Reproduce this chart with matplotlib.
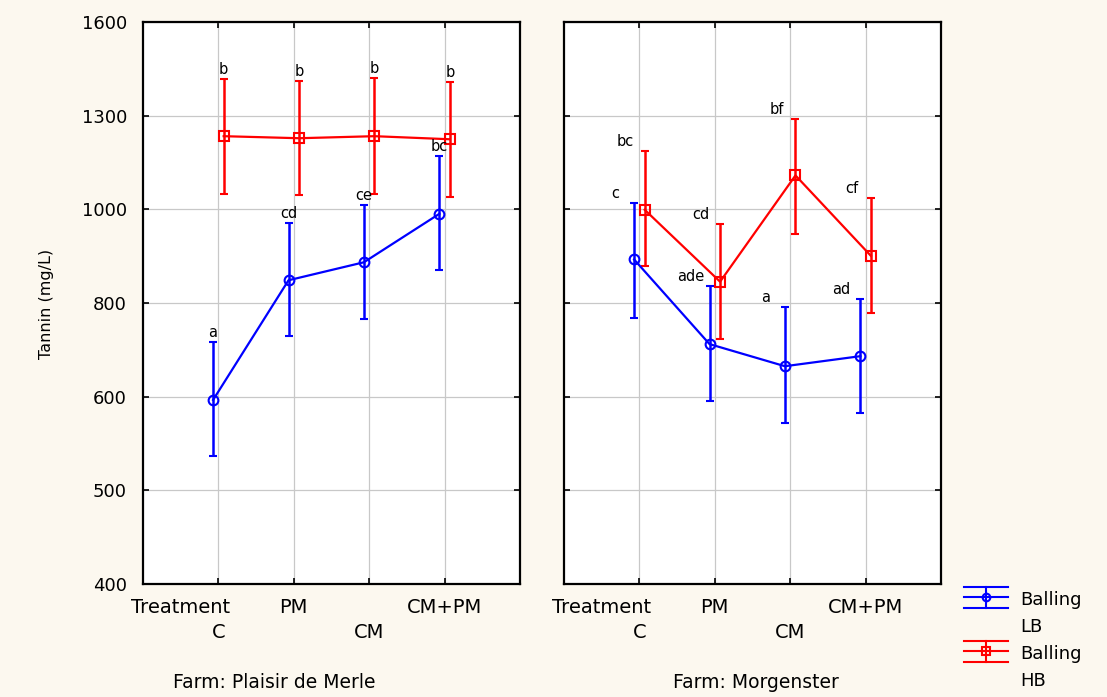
import numpy as np
import matplotlib
matplotlib.use("Agg")
import matplotlib.pyplot as plt
from matplotlib.lines import Line2D
from matplotlib.ticker import FixedLocator, NullLocator

# ---------------- data ----------------
treatments = ["C", "PM", "CM", "CM+PM"]
farms = ["Plaisir de Merle", "Morgenster"]
series_names = ["Balling\nLB", "Balling\nHB"]

y_ticks = [10 ** 2.6, 10 ** 2.7, 10 ** 2.8, 10 ** 2.9, 10 ** 3.0, 10 ** 3.1, 10 ** 3.2]
y_tick_labels = ["400", "500", "600", "800", "1000", "1300", "1600"]

# Farm: Plaisir de Merle
pdm_lb_mean = [626, 840, 878, 989]
pdm_lb_low = [545, 732, 763, 861]
pdm_lb_high = [722, 968, 1011, 1140]
pdm_hb_mean = [1197, 1191, 1197, 1188]
pdm_hb_low = [1039, 1035, 1039, 1031]
pdm_hb_high = [1377, 1372, 1380, 1366]
pdm_lb_letters = ["a", "cd", "ce", "bc"]
pdm_hb_letters = ["b", "b", "b", "b"]

# Farm: Morgenster
mor_lb_mean = [884, 718, 680, 697]
mor_lb_low = [766, 625, 592, 606]
mor_lb_high = [1016, 828, 786, 803]
mor_hb_mean = [999, 837, 1087, 892]
mor_hb_low = [871, 727, 942, 775]
mor_hb_high = [1153, 964, 1248, 1027]
mor_lb_letters = ["c", "ade", "a", "ad"]
mor_hb_letters = ["bc", "cd", "bf", "cf"]

# ---------------- style ----------------
BG = "#FCF8EF"
BLUE = "#0000FF"
RED = "#FF0000"
plt.rcParams["font.family"] = ["DejaVu Sans"]

W, H = 1107, 697
fig = plt.figure(figsize=(W / 100, H / 100), dpi=100, facecolor=BG)


def rect(x0, y0, x1, y1):
    return [x0 / W, 1 - y1 / H, (x1 - x0) / W, (y1 - y0) / H]


ax1 = fig.add_axes(rect(143, 22, 520, 584))
ax2 = fig.add_axes(rect(564, 22, 941, 584))

panels = [
    (ax1, farms[0], (pdm_lb_mean, pdm_lb_low, pdm_lb_high, pdm_lb_letters),
     (pdm_hb_mean, pdm_hb_low, pdm_hb_high, pdm_hb_letters), 0, 274.5),
    (ax2, farms[1], (mor_lb_mean, mor_lb_low, mor_lb_high, mor_lb_letters),
     (mor_hb_mean, mor_hb_low, mor_hb_high, mor_hb_letters), -19, 756),
]

x = np.arange(1, len(treatments) + 1)
off = 0.07

for ax, farm, lb, hb, dx, farm_x in panels:
    ax.set_facecolor("white")
    for (mean, low, high, letters), color, marker, ms, shift in [
        (lb, BLUE, "o", 7, -off),
        (hb, RED, "s", 6.5, off),
    ]:
        mean = np.array(mean, float)
        low = np.array(low, float)
        high = np.array(high, float)
        xs = x + shift
        ax.errorbar(xs, mean, yerr=[mean - low, high - mean], color=color,
                    marker=marker, ms=ms, mfc="none", mec=color, mew=1.5,
                    lw=1.6, elinewidth=1.8, capsize=3.2, capthick=1.6, zorder=3)
        for xi, hi, s in zip(xs, high, letters):
            ax.annotate(s, xy=(xi, hi), xytext=(dx, 5), textcoords="offset pixels",
                        ha="center", va="baseline", fontsize=10.5, color="black",
                        zorder=4)

    ax.set_yscale("log")
    ax.set_ylim(y_ticks[0], y_ticks[-1])
    ax.yaxis.set_major_locator(FixedLocator(y_ticks))
    ax.yaxis.set_minor_locator(NullLocator())
    ax.set_yticklabels(y_tick_labels)
    ax.set_xlim(0, len(treatments) + 1)

    # staggered category labels: upper row on major ticks, lower row on minor ticks
    ax.xaxis.set_major_locator(FixedLocator(x[1::2]))
    ax.xaxis.set_minor_locator(FixedLocator(x[0::2]))
    ax.set_xticklabels(treatments[1::2])
    ax.set_xticklabels(treatments[0::2], minor=True)

    ax.grid(True, which="major", color="#C8C8C8", lw=0.9)
    ax.grid(True, which="minor", axis="x", color="#C8C8C8", lw=0.9)
    ax.set_axisbelow(True)
    ax.tick_params(axis="both", which="both", direction="in", length=4, width=1.2,
                   top=True, right=True)
    ax.tick_params(axis="x", which="major", labelsize=14, pad=10)
    ax.tick_params(axis="x", which="minor", labelsize=14, pad=28)
    ax.tick_params(axis="y", labelsize=13, pad=11.5)
    for sp in ax.spines.values():
        sp.set_linewidth(1.6)
        sp.set_color("black")

    ax.annotate("Treatment", xy=(0.5, 0), xycoords=("data", "axes fraction"),
                xytext=(0, -10), textcoords="offset points", ha="center", va="top",
                fontsize=14)
    fig.text(farm_x / W, 1 - 682 / H, "Farm: " + farm, ha="center", va="center",
             fontsize=13.5)

ax2.tick_params(axis="y", labelleft=False)

fig.text(46 / W, 1 - 304 / H, "Tannin (mg/L)", rotation=90, ha="center", va="center",
         fontsize=11.5)

# ---------------- legend ----------------
legend_rows = [(BLUE, "o", 597, series_names[0]), (RED, "s", 651, series_names[1])]
for color, marker, yc, name in legend_rows:
    for d in (-10.5, 0, 10.5):
        fig.add_artist(Line2D([964 / W, 1008 / W], [1 - (yc + d) / H] * 2,
                              color=color, lw=1.5))
    fig.add_artist(Line2D([986 / W] * 2, [1 - (yc - 10.5) / H, 1 - (yc + 10.5) / H],
                          color=color, lw=1.5))
    fig.add_artist(Line2D([986 / W], [1 - yc / H], marker=marker, ms=5.5, mfc="none",
                          mec=color, mew=1.5, lw=0))
    line1, line2 = name.split("\n")
    fig.text(1020 / W, 1 - (yc + 8) / H, line1, ha="left", va="baseline", fontsize=13)
    fig.text(1020 / W, 1 - (yc + 35) / H, line2, ha="left", va="baseline", fontsize=13)

fig.savefig("out.png", dpi=100, facecolor=BG)
